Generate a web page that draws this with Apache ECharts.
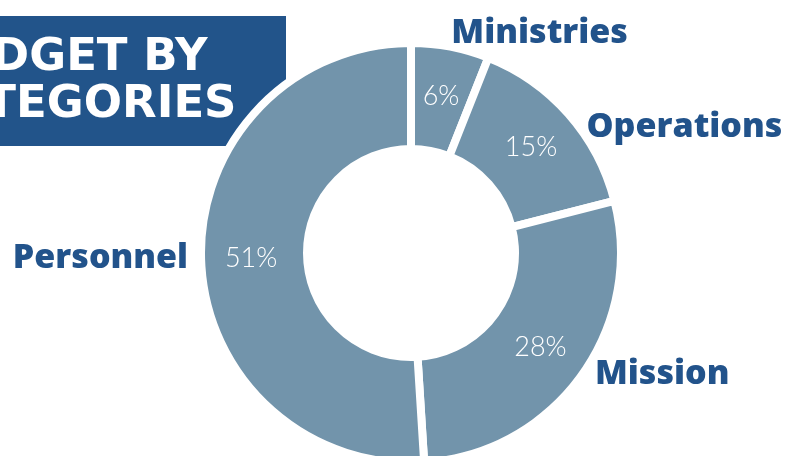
<!DOCTYPE html>
<html>
<head>
<meta charset="utf-8">
<script src="https://cdn.jsdelivr.net/npm/echarts@6/dist/echarts.min.js"></script>
<style>
  html, body { margin: 0; padding: 0; background: #ffffff; }
  #chart { width: 788px; height: 456px; }
</style>
</head>
<body>
<div id="chart"></div>
<script>
// ---- data ----
const categories = ['Ministries', 'Operations', 'Mission', 'Personnel'];
const shares = [6, 15, 28, 51];
const titleLines = ['BUDGET BY', 'CATEGORIES'];

// ---- style ----
const sliceColor = '#7294ab';
const labelColor = '#22538b';
const boxColor = '#22548a';
const nameOffsets = [[-4, -13], [13, 13], [9, -2], [-8, -1]];

const chart = echarts.init(document.getElementById('chart'), null, { renderer: 'canvas' });

const valueData = categories.map((c, i) => ({ name: c, value: shares[i] }));
const nameData = categories.map((c, i) => ({
  name: c,
  value: shares[i],
  label: { offset: nameOffsets[i] }
}));

const option = {
  animation: false,
  backgroundColor: '#ffffff',
  graphic: [
    { type: 'rect', z: 0, shape: { x: 0, y: 16, width: 286, height: 130 }, style: { fill: boxColor } },
    { type: 'text', z: 1, x: -79, y: 58, style: { text: titleLines[0], fill: '#ffffff', font: 'bold 45px "DejaVu Sans"', verticalAlign: 'middle', align: 'left' } },
    { type: 'text', z: 1, x: -79, y: 105, style: { text: titleLines[1], fill: '#ffffff', font: 'bold 45px "DejaVu Sans"', verticalAlign: 'middle', align: 'left' } }
  ],
  series: [
    {
      type: 'pie',
      z: 5,
      center: [411, 253],
      radius: [104, 210],
      startAngle: 90,
      clockwise: true,
      avoidLabelOverlap: false,
      itemStyle: { color: sliceColor, borderColor: '#ffffff', borderWidth: 8 },
      label: {
        show: true,
        position: 'inner',
        formatter: '{c}%',
        color: '#ffffff',
        fontFamily: 'Lato',
        fontWeight: 300,
        fontSize: 27
      },
      labelLine: { show: false },
      emphasis: { disabled: true },
      data: valueData
    },
    {
      type: 'pie',
      z: 6,
      silent: true,
      center: [411, 253],
      radius: [104, 210],
      startAngle: 90,
      clockwise: true,
      avoidLabelOverlap: false,
      bleedMargin: 0,
      itemStyle: { color: 'rgba(0,0,0,0)', borderWidth: 0 },
      label: {
        show: true,
        position: 'outside',
        formatter: '{b}',
        color: labelColor,
        fontFamily: 'Open Sans',
        fontWeight: 800,
        fontSize: 34
      },
      labelLine: { show: false, length: 0, length2: 0 },
      emphasis: { disabled: true },
      data: nameData
    }
  ]
};

chart.setOption(option);
</script>
</body>
</html>
